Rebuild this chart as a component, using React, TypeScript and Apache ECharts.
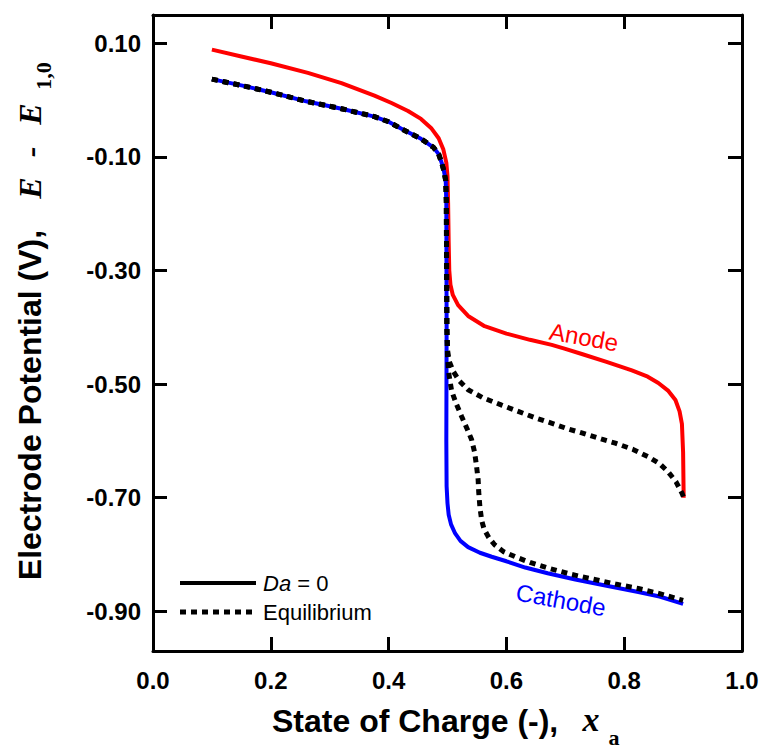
import React, { useEffect, useRef } from "react";
import * as echarts from "echarts";

// ---- data ----
const yTicks = [-0.9, -0.7, -0.5, -0.3, -0.1, 0.1];

// shared early part of the equilibrium / cathode curves
const commonEq: number[][] = [
  [0.10, 0.037], [0.15, 0.026], [0.20, 0.014], [0.26, -0.002], [0.32, -0.015],
  [0.376, -0.029], [0.40, -0.038], [0.421, -0.050], [0.44, -0.060], [0.455, -0.068],
  [0.476, -0.083], [0.485, -0.095], [0.490, -0.110], [0.494, -0.125], [0.497, -0.142],
  [0.498, -0.18],
];

const anodeEqTail: number[][] = [
  [0.4985, -0.30], [0.499, -0.40], [0.5, -0.44], [0.503, -0.46], [0.51, -0.478],
  [0.52, -0.494], [0.535, -0.510], [0.56, -0.524], [0.592, -0.537], [0.62, -0.548],
  [0.648, -0.559], [0.68, -0.570], [0.705, -0.579], [0.728, -0.586], [0.762, -0.597],
  [0.785, -0.604], [0.815, -0.615], [0.841, -0.628], [0.86, -0.640], [0.875, -0.655],
  [0.888, -0.672], [0.898, -0.692], [0.902, -0.702],
];

const cathodeEqTail: number[][] = [
  [0.4985, -0.30], [0.499, -0.40], [0.500, -0.45], [0.502, -0.48], [0.507, -0.512],
  [0.515, -0.535], [0.524, -0.557], [0.533, -0.578], [0.541, -0.598], [0.546, -0.620],
  [0.549, -0.642], [0.552, -0.668], [0.553, -0.690], [0.555, -0.716], [0.558, -0.740],
  [0.562, -0.755], [0.570, -0.770], [0.580, -0.783], [0.595, -0.795], [0.615, -0.804],
  [0.64, -0.814], [0.671, -0.824], [0.71, -0.835], [0.745, -0.843], [0.785, -0.852],
  [0.824, -0.860], [0.86, -0.869], [0.90, -0.881],
];

const cathodeTail: number[][] = [
  [0.4985, -0.40], [0.498, -0.60], [0.4985, -0.680], [0.500, -0.710], [0.502, -0.730],
  [0.506, -0.747], [0.513, -0.763], [0.522, -0.776], [0.535, -0.787], [0.555, -0.797],
  [0.575, -0.804], [0.60, -0.812], [0.632, -0.823], [0.67, -0.833], [0.717, -0.844],
  [0.77, -0.855], [0.824, -0.866], [0.86, -0.874], [0.90, -0.887],
];

const anode: number[][] = [
  [0.10, 0.089], [0.15, 0.077], [0.20, 0.065], [0.263, 0.048], [0.32, 0.030],
  [0.376, 0.008], [0.405, -0.005], [0.433, -0.019], [0.455, -0.033], [0.473, -0.050],
  [0.485, -0.067], [0.493, -0.087], [0.498, -0.110], [0.500, -0.134], [0.501, -0.18],
  [0.502, -0.25], [0.503, -0.30], [0.505, -0.325], [0.509, -0.343], [0.518, -0.361],
  [0.535, -0.380], [0.563, -0.398], [0.60, -0.411], [0.64, -0.422], [0.677, -0.431],
  [0.70, -0.438], [0.728, -0.447], [0.77, -0.461], [0.813, -0.476], [0.84, -0.487],
  [0.858, -0.498], [0.875, -0.512], [0.887, -0.528], [0.894, -0.548], [0.898, -0.570],
  [0.900, -0.62], [0.901, -0.700],
];

const cathode = [...commonEq, ...cathodeTail];
const anodeEq = [...commonEq, ...anodeEqTail];
const cathodeEq = [...commonEq, ...cathodeEqTail];

const SANS = "'Liberation Sans', Arial, Helvetica, sans-serif";
const SERIF = "'Liberation Serif', 'Times New Roman', serif";

export default function App() {
  const ref = useRef<HTMLDivElement>(null);

  useEffect(() => {
    document.body.style.margin = "0";
    if (!ref.current) return;
    const chart = echarts.init(ref.current, undefined, { renderer: "svg" });

    const tickStyle = { inside: true, length: 14, lineStyle: { color: "#000", width: 3 } };
    const lineStyle = { show: true, onZero: false, lineStyle: { color: "#000", width: 3 } };
    const labelFont = { color: "#000", fontFamily: SANS, fontWeight: "bold" as const, fontSize: 24 };

    const italicE = (y: number, text: string) => ({
      type: "text", x: 30, y, rotation: Math.PI / 2,
      style: { text, fill: "#000", fontFamily: SERIF, fontWeight: "bold", fontStyle: "italic", fontSize: 32, align: "center", verticalAlign: "middle" },
    });

    chart.setOption({
      animation: false,
      backgroundColor: "#fff",
      grid: { left: 153, right: 20, top: 15, bottom: 99, containLabel: false },
      xAxis: [
        {
          type: "value", min: 0, max: 1, interval: 0.2, position: "bottom",
          axisLine: lineStyle, axisTick: tickStyle, splitLine: { show: false },
          axisLabel: { ...labelFont, margin: 17, formatter: (v: number) => v.toFixed(1) },
        },
        {
          type: "value", min: 0, max: 1, interval: 0.2, position: "top",
          axisLine: lineStyle, axisTick: tickStyle, splitLine: { show: false },
          axisLabel: { show: false },
        },
      ],
      yAxis: [
        {
          type: "value", min: -0.97, max: 0.15, position: "left",
          axisLine: lineStyle,
          axisTick: { ...tickStyle, customValues: yTicks },
          splitLine: { show: false },
          axisLabel: { ...labelFont, margin: 12, customValues: yTicks, formatter: (v: number) => v.toFixed(2) },
        },
        {
          type: "value", min: -0.97, max: 0.15, position: "right",
          axisLine: lineStyle,
          axisTick: { ...tickStyle, customValues: yTicks },
          splitLine: { show: false },
          axisLabel: { show: false, customValues: yTicks },
        },
      ],
      series: [
        {
          name: "Anode", type: "line", data: anode, showSymbol: false, symbol: "none",
          lineStyle: { color: "#ff0000", width: 4 }, z: 2,
        },
        {
          name: "Cathode", type: "line", data: cathode, showSymbol: false, symbol: "none",
          lineStyle: { color: "#0000ff", width: 4 }, z: 2,
        },
        {
          name: "Anode Eq", type: "line", data: anodeEq, showSymbol: false, symbol: "none",
          lineStyle: { color: "#000", width: 5, type: [6, 5], cap: "butt" }, z: 3,
        },
        {
          name: "Cathode Eq", type: "line", data: cathodeEq, showSymbol: false, symbol: "none",
          lineStyle: { color: "#000", width: 5, type: [6, 5], cap: "butt" }, z: 3,
        },
      ],
      graphic: [
        // legend
        { type: "line", shape: { x1: 180, y1: 583, x2: 256, y2: 583 }, style: { stroke: "#000", lineWidth: 4 } },
        {
          type: "text", x: 263, y: 583,
          style: {
            text: "{i|Da} = 0", fill: "#000", fontFamily: SANS, fontSize: 22, verticalAlign: "middle", align: "left",
            rich: { i: { fontStyle: "italic", fontFamily: SANS, fontSize: 22, fill: "#000" } },
          },
        },
        { type: "line", shape: { x1: 180, y1: 612, x2: 256, y2: 612 }, style: { stroke: "#000", lineWidth: 5, lineDash: [6, 5] } },
        {
          type: "text", x: 263, y: 612,
          style: { text: "Equilibrium", fill: "#000", fontFamily: SANS, fontSize: 22, verticalAlign: "middle", align: "left" },
        },
        // curve labels
        {
          type: "text", x: 584, y: 337, rotation: -0.18,
          style: { text: "Anode", fill: "#ff0000", fontFamily: SANS, fontSize: 24, align: "center", verticalAlign: "middle" },
        },
        {
          type: "text", x: 561, y: 600, rotation: -0.18,
          style: { text: "Cathode", fill: "#0000ff", fontFamily: SANS, fontSize: 24, align: "center", verticalAlign: "middle" },
        },
        // x axis title
        {
          type: "text", x: 272, y: 721,
          style: { text: "State of Charge (-),", fill: "#000", fontFamily: SANS, fontWeight: "bold", fontSize: 32, align: "left", verticalAlign: "middle" },
        },
        {
          type: "text", x: 591, y: 719,
          style: { text: "x", fill: "#000", fontFamily: SERIF, fontWeight: "bold", fontStyle: "italic", fontSize: 34, align: "center", verticalAlign: "middle" },
        },
        {
          type: "text", x: 614, y: 737,
          style: { text: "a", fill: "#000", fontFamily: SERIF, fontWeight: "bold", fontSize: 22, align: "center", verticalAlign: "middle" },
        },
        // y axis title
        {
          type: "text", x: 30, y: 405, rotation: Math.PI / 2,
          style: { text: "Electrode Potential (V),", fill: "#000", fontFamily: SANS, fontWeight: "bold", fontSize: 32, align: "center", verticalAlign: "middle" },
        },
        italicE(188, "E"),
        italicE(152, "-"),
        italicE(114, "E"),
        {
          type: "text", x: 43, y: 76, rotation: Math.PI / 2,
          style: { text: "1,0", fill: "#000", fontFamily: SERIF, fontWeight: "bold", fontSize: 22, align: "center", verticalAlign: "middle" },
        },
      ],
    });

    return () => chart.dispose();
  }, []);

  return <div ref={ref} style={{ width: 762, height: 750 }} />;
}
